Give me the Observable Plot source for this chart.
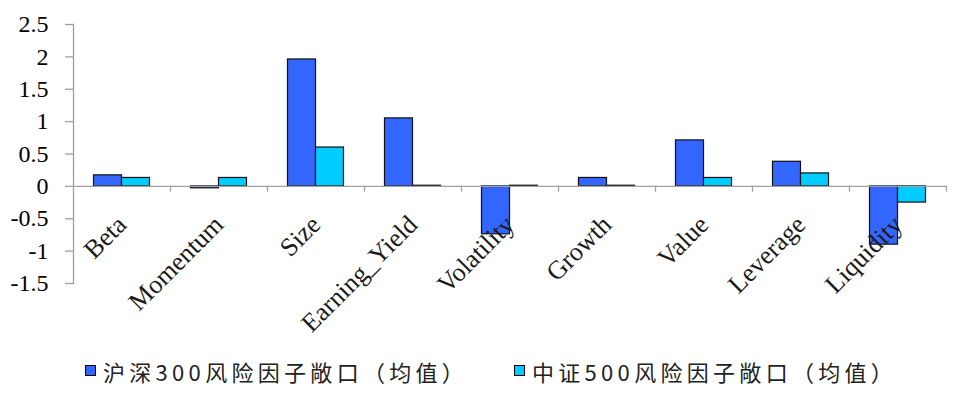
<!DOCTYPE html>
<html>
<head>
<meta charset="utf-8">
<script src="https://cdn.jsdelivr.net/npm/d3@7"></script>
<script src="https://cdn.jsdelivr.net/npm/@observablehq/plot@0.6"></script>
<style>
  html, body { margin: 0; padding: 0; background: #fff; }
  #chart svg { display: block; }
  #chart svg text { font-family: "Liberation Serif", "Times New Roman", serif; }
  #legend { height: 51px; display: flex; align-items: center; font-family: "Noto Sans CJK SC", sans-serif; font-size: 22px; color: #222; letter-spacing: 4.3px; }
  .item { display: flex; align-items: center; position: absolute; }
  .sw { width: 9px; height: 9px; border: 1px solid #000; margin-right: 7px; }
</style>
</head>
<body>
<div id="chart"></div>
<div id="legend" style="position:relative"></div>
<script>
const categories = ["Beta", "Momentum", "Size", "Earning_Yield", "Volatility", "Growth", "Value", "Leverage", "Liquidity"];
const hs300 = [0.17, -0.03, 1.96, 1.05, -0.74, 0.13, 0.71, 0.38, -0.90];
const zz500 = [0.13, 0.13, 0.60, 0.01, 0.01, 0.01, 0.13, 0.20, -0.25];
const seriesNames = ["沪深300风险因子敞口（均值）", "中证500风险因子敞口（均值）"];
const seriesColors = ["#3366FF", "#00CCFF"];
const yTicks = [-1.5, -1, -0.5, 0, 0.5, 1, 1.5, 2, 2.5];
const yTickLabels = ["-1.5", "-1", "-0.5", "0", "0.5", "1", "1.5", "2", "2.5"];

const rowsA = categories.map((c, i) => ({category: c, value: hs300[i]}));
const rowsB = categories.map((c, i) => ({category: c, value: zz500[i]}));
const tickRows = yTicks.map((v, i) => ({value: v, label: yTickLabels[i]}));

const axisGray = "#A0A0A0";
const serif = "Liberation Serif";
const chart = Plot.plot({
  width: 957,
  height: 345,
  marginLeft: 73,
  marginRight: 11,
  marginTop: 24,
  marginBottom: 62,
  style: {background: "#fff"},
  x: {type: "band", domain: categories, padding: 0, axis: null},
  y: {domain: [-1.5, 2.5], axis: null},
  marks: [
    Plot.frame({anchor: "left", stroke: axisGray, strokeWidth: 1.3}),
    Plot.axisY(yTicks, {tickSize: 8, text: null, stroke: axisGray, strokeWidth: 1.3, label: null}),
    Plot.text(tickRows, {y: "value", text: "label", frameAnchor: "left", dx: -25, textAnchor: "end", fontSize: 24, fontFamily: serif, fill: "#000"}),
    Plot.barY(rowsA, {x: "category", y: "value", fill: seriesColors[0], stroke: "#111", strokeWidth: 1.2, insetLeft: 20.5, insetRight: 48.5}),
    Plot.barY(rowsB, {x: "category", y: "value", fill: seriesColors[1], stroke: "#111", strokeWidth: 1.2, insetLeft: 48.5, insetRight: 20.5}),
    Plot.ruleY([0], {stroke: axisGray, strokeWidth: 1.3}),
    Plot.ruleX(categories.slice(1), {x: d => d, dx: -48.5, y1: 0, y2: -0.09, stroke: axisGray, strokeWidth: 1.3}),
    Plot.ruleX(categories.slice(-1), {x: d => d, dx: 48.5, y1: 0, y2: -0.09, stroke: axisGray, strokeWidth: 1.3}),
    Plot.text(categories, {x: d => d, y: 0, dx: 0, dy: 34, rotate: -45, textAnchor: "end", fontSize: 26, fontFamily: serif, fill: "#1a1a1a"})
  ]
});
document.getElementById("chart").appendChild(chart);

const legend = document.getElementById("legend");
const lefts = [85, 514];
seriesNames.forEach((name, i) => {
  const item = document.createElement("div");
  item.className = "item";
  item.style.left = lefts[i] + "px";
  const sw = document.createElement("span");
  sw.className = "sw";
  sw.style.background = seriesColors[i];
  const t = document.createElement("span");
  t.textContent = name;
  item.appendChild(sw);
  item.appendChild(t);
  legend.appendChild(item);
});
</script>
</body>
</html>
